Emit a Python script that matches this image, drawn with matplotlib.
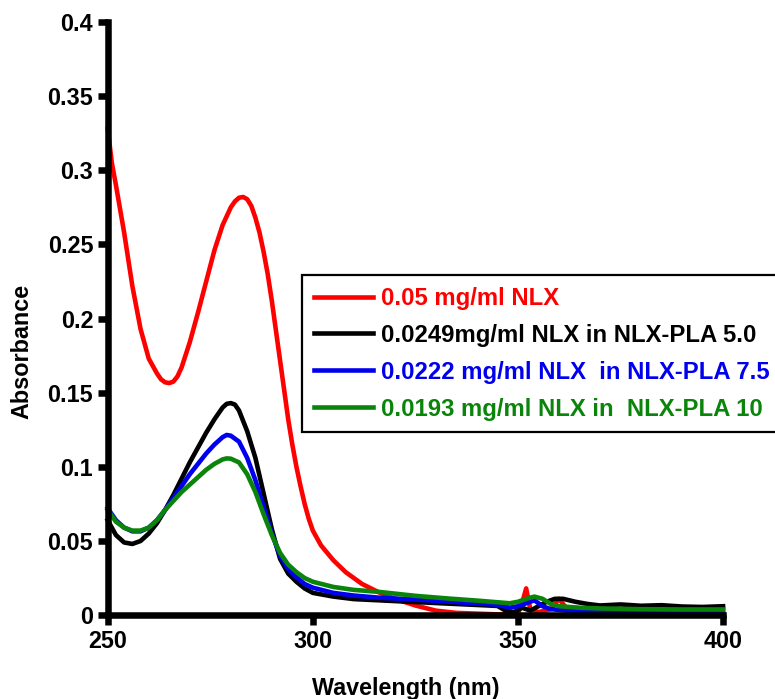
import matplotlib
matplotlib.use('Agg')
import matplotlib.pyplot as plt

plt.rcParams['font.family'] = ['Liberation Sans', 'DejaVu Sans']
plt.rcParams['font.weight'] = 'bold'

# UV spectra (wavelength in nm, absorbance)
wl_red = [250, 251, 252, 254, 256, 258, 260, 262, 263, 264, 265, 266, 267, 268,
          270, 272, 274, 276, 278, 280, 281, 282, 283, 284, 285, 286, 287, 288,
          289, 290, 291, 292, 293, 294, 295, 296, 297, 298, 299, 300, 302, 305,
          308, 312, 316, 320, 325, 330, 335, 340, 345, 350, 351, 352, 353, 355,
          358, 360, 362, 365, 370, 380, 390, 400]
abs_red = [0.328, 0.305, 0.29, 0.258, 0.222, 0.193, 0.173, 0.163, 0.159, 0.157,
           0.1565, 0.1575, 0.161, 0.167, 0.184, 0.204, 0.225, 0.246, 0.263, 0.275,
           0.279, 0.2815, 0.282, 0.2805, 0.276, 0.268, 0.258, 0.245, 0.23, 0.212,
           0.192, 0.172, 0.152, 0.132, 0.115, 0.1, 0.087, 0.075, 0.065, 0.057,
           0.047, 0.037, 0.029, 0.021, 0.0155, 0.011, 0.0065, 0.003, 0.0015,
           0.001, 0.0005, 0.001, 0.008, 0.018, 0.004, 0.002, 0.004, 0.011, 0.004,
           0.001, 0.0005, 0.0005, 0.0005, 0.0005]

wl_black = [250, 252, 254, 256, 258, 260, 262, 264, 266, 268, 270, 272, 274, 276,
            278, 279, 280, 281, 282, 284, 286, 288, 290, 292, 294, 296, 298, 300,
            305, 310, 316, 325, 335, 345, 347, 349, 351, 353, 355, 357, 359, 361,
            364, 367, 370, 375, 380, 385, 390, 395, 400]
abs_black = [0.064, 0.054, 0.049, 0.048, 0.05, 0.055, 0.062, 0.071, 0.081, 0.092,
             0.103, 0.113, 0.123, 0.132, 0.14, 0.1425, 0.143, 0.142, 0.138, 0.124,
             0.106, 0.082, 0.058, 0.038, 0.028, 0.0225, 0.018, 0.015, 0.0125,
             0.0108, 0.01, 0.0088, 0.0075, 0.0062, 0.003, 0.002, 0.005, 0.003,
             0.006, 0.009, 0.011, 0.011, 0.009, 0.0075, 0.0065, 0.0072, 0.0063,
             0.0067, 0.0058, 0.0055, 0.006]

wl_blue = [250, 252, 254, 256, 258, 260, 262, 264, 266, 268, 270, 272, 274, 276,
           278, 279, 280, 282, 284, 286, 288, 290, 292, 294, 296, 298, 300, 305,
           310, 316, 325, 335, 345, 348, 350, 352, 354, 356, 358, 362, 370, 380,
           390, 400]
abs_blue = [0.072, 0.064, 0.059, 0.0565, 0.0565, 0.059, 0.064, 0.071, 0.079,
            0.087, 0.095, 0.102, 0.109, 0.115, 0.12, 0.1215, 0.121, 0.117, 0.106,
            0.091, 0.073, 0.055, 0.04, 0.031, 0.0255, 0.021, 0.0185, 0.015,
            0.0132, 0.0118, 0.0105, 0.0088, 0.007, 0.005, 0.006, 0.008, 0.01,
            0.006, 0.004, 0.003, 0.003, 0.0028, 0.0025, 0.003]

wl_green = [250, 252, 254, 256, 258, 260, 262, 264, 266, 268, 270, 272, 274, 276,
            278, 279, 280, 282, 284, 286, 288, 290, 292, 294, 296, 298, 300, 305,
            310, 316, 325, 333, 340, 348, 350, 352, 354, 356, 358, 360, 365, 370,
            380, 390, 400]
abs_green = [0.071, 0.063, 0.059, 0.057, 0.057, 0.059, 0.064, 0.071, 0.077, 0.083,
             0.088, 0.093, 0.098, 0.102, 0.105, 0.1057, 0.1055, 0.103, 0.095,
             0.083, 0.068, 0.054, 0.042, 0.034, 0.029, 0.025, 0.0225, 0.019,
             0.017, 0.0157, 0.013, 0.0112, 0.0098, 0.008, 0.009, 0.011, 0.0125,
             0.011, 0.0075, 0.006, 0.005, 0.0045, 0.004, 0.0038, 0.0038]

labels = ['0.05 mg/ml NLX',
          '0.0249mg/ml NLX in NLX-PLA 5.0',
          '0.0222 mg/ml NLX  in NLX-PLA 7.5',
          '0.0193 mg/ml NLX in  NLX-PLA 10']
colors = ['#ff0000', '#000000', '#0000ee', '#0a840a']

x_ticks = [250, 300, 350, 400]
y_ticks = [0, 0.05, 0.1, 0.15, 0.2, 0.25, 0.3, 0.35, 0.4]
y_ticklabels = ['0', '0.05', '0.1', '0.15', '0.2', '0.25', '0.3', '0.35', '0.4']

fig = plt.figure(figsize=(7.75, 6.99), dpi=100)
ax = fig.add_axes([0.139, 0.12, 0.794, 0.8485])

series = [(wl_red, abs_red), (wl_black, abs_black), (wl_blue, abs_blue), (wl_green, abs_green)]
for (x, y), c, lab in zip(series, colors, labels):
    ax.plot(x, y, color=c, lw=3.3, label=lab, clip_on=False,
            solid_joinstyle='round')

ax.set_xlim(250, 400)
ax.set_ylim(0, 0.4)
ax.set_xticks(x_ticks)
ax.set_xticklabels([str(t) for t in x_ticks])
ax.set_yticks(y_ticks)
ax.set_yticklabels(y_ticklabels)

for s in ['top', 'right']:
    ax.spines[s].set_visible(False)
for s in ['left', 'bottom']:
    ax.spines[s].set_linewidth(4.7)
ax.tick_params(direction='out', length=7.5, width=4.7, labelsize=16.8, pad=3)
for t in ax.get_xticklabels() + ax.get_yticklabels():
    t.set_fontweight('bold')

ax.set_xlabel('Wavelength (nm)', fontsize=16.8, fontweight='bold', va='center')
ax.set_ylabel('Absorbance', fontsize=16.8, fontweight='bold', va='center')
ax.xaxis.set_label_coords(0.484, -0.123)
ax.yaxis.set_label_coords(-0.14, 0.445)

leg = ax.legend(loc='upper left', bbox_to_anchor=(0.3154, 0.5734), borderaxespad=0,
                prop={'weight': 'bold', 'size': 17.2}, labelcolor='linecolor',
                handlelength=2.5, handletextpad=0.3, labelspacing=0.58,
                borderpad=0.5, fancybox=False, framealpha=1, edgecolor='black')
leg.get_frame().set_linewidth(1.6)

fig.savefig('out.png', dpi=100)
